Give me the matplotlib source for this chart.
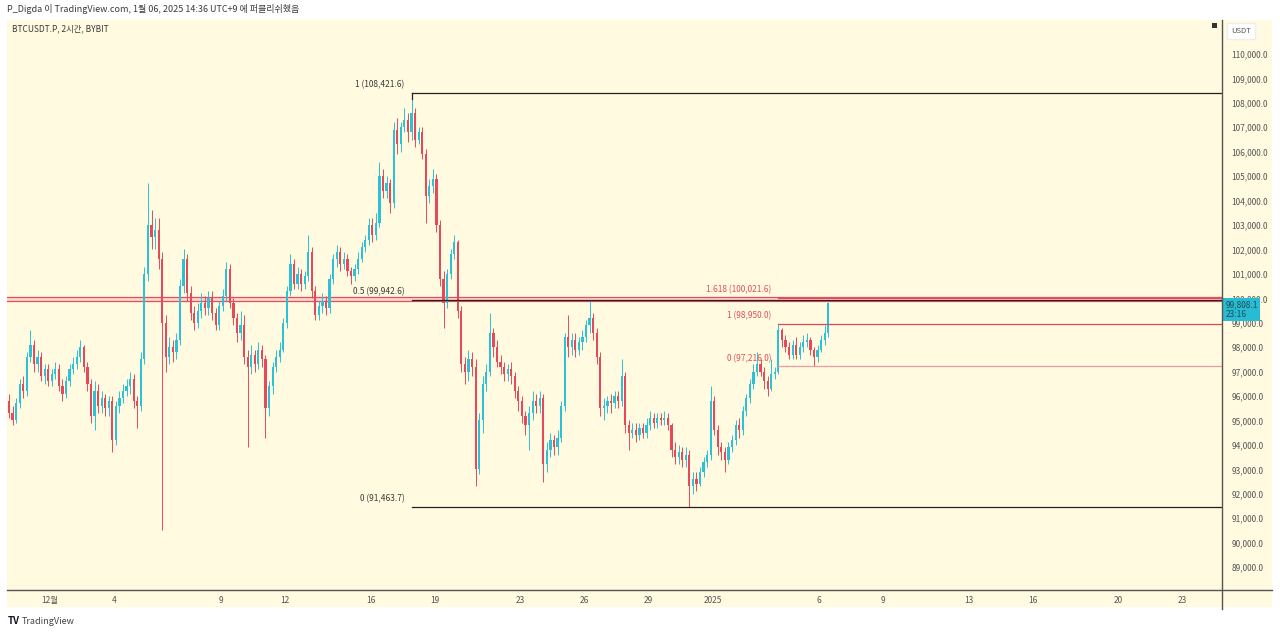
import matplotlib
matplotlib.use("Agg")

import matplotlib.pyplot as plt
import matplotlib.transforms as mtransforms
from matplotlib.lines import Line2D
from matplotlib.patches import Rectangle
import numpy as np

plt.rcParams['font.family'] = ['Noto Sans CJK KR', 'DejaVu Sans']

# ---- data (BTCUSDT.P, resampled to 4h candles, prices in thousands) ----
start_day = -2.0          # days relative to Dec 1 00:00 (first candle: Nov 29)
candle_hours = 4
first_open = 95.8

closes = [
    95.3, 95.0, 95.7, 96.5, 96.2, 97.6, 98.1, 97.3, 97.6, 96.8,
    97.1, 96.6, 96.9, 97.1, 96.4, 96.1, 96.6, 97.1, 97.3, 97.6,
    98.0, 97.2, 96.5, 95.2, 96.2, 95.6, 95.9, 95.5, 95.8, 94.2,
    95.6, 95.9, 96.2, 96.4, 96.7, 95.8, 95.6, 97.5, 101.0, 103.0,
    102.5, 102.8, 101.6, 99.0, 97.6, 98.0, 97.8, 98.3, 100.5, 101.6,
    100.2, 99.4, 99.0, 99.5, 99.8, 99.6, 100.0, 99.4, 98.9, 99.7,
    100.1, 101.2, 99.8, 99.2, 98.6, 98.9, 97.6, 97.2, 97.7, 97.3,
    97.9, 97.5, 95.5, 96.4, 97.2, 97.6, 97.9, 99.0, 100.3, 101.4,
    100.6, 101.0, 100.6, 100.9, 101.9, 100.3, 99.3, 99.7, 99.9, 99.6,
    100.8, 101.6, 101.9, 101.4, 101.6, 101.1, 100.9, 101.2, 101.6, 102.1,
    102.4, 103.0, 102.6, 103.1, 105.0, 104.4, 104.7, 103.9, 106.9, 106.3,
    107.0, 107.3, 106.8, 107.6, 106.5, 106.8, 105.9, 104.2, 104.6, 104.9,
    103.0, 100.8, 99.8, 101.0, 101.8, 102.3, 99.5, 97.3, 97.0, 97.5,
    97.2, 93.0, 95.0, 96.5, 97.0, 98.6, 98.0, 97.4, 97.2, 96.9,
    97.1, 96.8, 96.2, 95.8, 95.2, 94.8, 95.3, 95.8, 95.6, 95.9,
    93.2, 93.8, 94.2, 93.9, 94.3, 95.6, 98.4, 98.0, 98.3, 97.9,
    98.2, 98.4, 98.9, 99.2, 98.6, 97.6, 95.5, 95.6, 95.8, 95.7,
    96.0, 95.8, 96.8, 94.8, 94.5, 94.6, 94.4, 94.7, 94.5, 94.8,
    95.1, 94.9, 95.1, 95.0, 95.1, 94.8, 93.8, 93.5, 93.7, 93.4,
    93.6, 92.3, 92.6, 92.4, 92.9, 93.3, 93.6, 95.8, 94.6, 93.9,
    93.7, 93.4, 93.9, 94.2, 94.8, 94.6, 95.4, 95.9, 96.5, 97.0,
    97.3, 97.0, 96.6, 96.3, 96.9, 97.0, 98.7, 98.3, 98.0, 97.7,
    98.1, 97.7, 98.0, 98.2, 98.3, 97.9, 97.6, 97.9, 98.3, 98.6,
    99.8081,
]

highs = [
    96.1, 95.6, 95.9, 96.7, 96.8, 97.8, 98.7, 98.3, 97.9, 97.8,
    97.3, 97.3, 97.1, 97.4, 97.3, 96.7, 96.8, 97.3, 97.6, 97.9,
    98.3, 98.1, 97.4, 96.7, 96.6, 96.5, 96.2, 96.1, 96.0, 96.0,
    95.8, 96.2, 96.5, 96.7, 97.0, 96.9, 96.0, 97.8, 101.3, 104.7,
    103.6, 103.3, 103.3, 101.9, 99.3, 98.4, 98.3, 98.6, 100.8, 102.0,
    101.8, 100.5, 99.7, 99.8, 100.2, 100.1, 100.3, 100.3, 99.6, 99.9,
    100.4, 101.5, 101.4, 100.0, 99.4, 99.5, 99.3, 97.9, 98.1, 97.9,
    98.2, 98.1, 97.7, 96.6, 97.4, 97.9, 98.2, 99.2, 100.5, 101.8,
    101.6, 101.3, 101.2, 101.1, 102.6, 102.1, 100.5, 99.9, 100.2, 100.1,
    101.0, 101.8, 102.2, 102.1, 101.9, 101.8, 101.3, 101.4, 101.9, 102.3,
    102.6, 103.3, 103.3, 103.5, 105.6, 105.3, 105.0, 104.9, 107.2, 107.4,
    107.2, 107.8, 107.6, 108.4216, 107.8, 107.0, 107.0, 106.1, 104.9, 105.3,
    105.1, 103.2, 101.1, 101.2, 102.0, 102.6, 102.4, 99.7, 97.6, 97.9,
    97.8, 97.5, 95.3, 96.8, 97.3, 99.4, 98.8, 98.3, 97.7, 97.4,
    97.3, 97.4, 97.0, 96.4, 96.0, 95.4, 95.6, 96.2, 96.1, 96.2,
    96.1, 94.1, 94.5, 94.4, 94.6, 95.8, 98.6, 99.3, 98.6, 98.6,
    98.4, 98.7, 99.1, 99.9, 99.4, 98.8, 97.8, 95.9, 96.0, 96.1,
    96.2, 96.2, 97.5, 97.0, 95.0, 94.9, 94.9, 94.9, 94.9, 95.1,
    95.4, 95.3, 95.3, 95.3, 95.4, 95.3, 94.9, 94.1, 94.0, 93.9,
    93.9, 93.8, 92.9, 92.9, 93.1, 93.5, 93.8, 96.4, 96.0, 94.8,
    94.1, 93.9, 94.1, 94.4, 95.0, 95.1, 95.6, 96.1, 96.7, 97.3,
    97.8, 97.5, 97.2, 96.8, 97.5, 97.2, 98.95, 98.8, 98.5, 98.2,
    98.3, 98.4, 98.2, 98.5, 98.6, 98.4, 98.0, 98.1, 98.5, 98.9,
    99.85,
]

lows = [
    95.1, 94.8, 94.9, 95.5, 95.9, 96.0, 97.4, 97.0, 97.0, 96.6,
    96.5, 96.4, 96.4, 96.7, 96.2, 95.8, 95.9, 96.4, 96.9, 97.1,
    97.4, 97.0, 96.2, 94.9, 94.6, 95.3, 95.3, 95.2, 95.2, 93.7,
    94.0, 95.3, 95.7, 96.0, 96.1, 95.5, 94.7, 95.4, 97.3, 100.7,
    102.0, 102.0, 101.2, 90.5, 97.0, 97.3, 97.4, 97.5, 98.1, 100.2,
    99.9, 99.1, 98.7, 98.8, 99.2, 99.3, 99.3, 99.1, 98.7, 98.7,
    99.5, 99.9, 99.6, 98.9, 98.2, 98.3, 97.3, 93.9, 96.9, 97.0,
    97.1, 97.2, 94.3, 95.2, 96.1, 97.0, 97.4, 97.8, 98.8, 100.1,
    100.4, 100.4, 100.3, 100.4, 100.7, 100.0, 99.1, 99.1, 99.4, 99.3,
    99.4, 100.6, 101.3, 101.1, 101.2, 100.9, 100.6, 100.7, 101.0, 101.5,
    101.9, 102.2, 102.3, 102.4, 102.9, 104.1, 104.1, 103.5, 103.7, 105.9,
    106.0, 106.8, 106.4, 106.5, 106.2, 106.3, 105.7, 103.1, 103.9, 104.3,
    102.7, 100.5, 98.8, 99.6, 100.8, 101.6, 99.2, 97.0, 96.5, 96.6,
    96.8, 92.3, 92.8, 94.5, 96.2, 96.8, 97.6, 97.2, 96.9, 96.6,
    96.6, 96.5, 95.9, 95.4, 94.9, 94.4, 93.8, 95.0, 95.3, 95.3,
    92.5, 92.9, 93.5, 93.6, 93.6, 94.1, 95.4, 97.6, 97.7, 97.6,
    97.7, 97.9, 98.2, 98.6, 98.3, 97.3, 95.2, 95.0, 95.3, 95.3,
    95.5, 95.5, 95.6, 94.5, 93.8, 94.3, 94.1, 94.2, 94.3, 94.3,
    94.6, 94.7, 94.7, 94.8, 94.8, 94.6, 93.5, 93.2, 93.2, 93.1,
    93.1, 91.4637, 92.0, 92.1, 92.3, 92.7, 93.1, 93.4, 94.4, 93.6,
    93.4, 92.9, 93.2, 93.7, 94.0, 94.3, 94.4, 95.2, 95.7, 96.3,
    96.8, 96.8, 96.3, 96.0, 96.2, 96.7, 96.9, 98.0, 97.8, 97.5,
    97.5, 97.5, 97.5, 97.8, 98.0, 97.7, 97.216, 97.4, 97.8, 98.1,
    98.4,
]

# x axis dates (days from Dec 1)
tick_days = [0, 3, 8, 11, 15, 18, 22, 25, 28, 31, 36, 39, 43, 46, 50, 53]
tick_labels = ["12월", "4", "9", "12", "16", "19", "23", "26", "29",
               "2025", "6", "9", "13", "16", "20", "23"]

# zone drawn by the author just under 100k
zone_top = 100060.0
zone_bottom = 99885.0

countdown = "23:16"
header = "P_Digda 이 TradingView.com, 1월 06, 2025 14:36 UTC+9 에 퍼블리쉬했음"
title = "BTCUSDT.P, 2시간, BYBIT"

# ---- derived arrays ----
c = np.array(closes) * 1000
h = np.array(highs) * 1000
l = np.array(lows) * 1000
o = np.concatenate([[first_open * 1000], c[:-1]])
step = candle_hours / 24
days = start_day + (np.arange(len(c)) + 0.5) * step

UP = "#29c2d6"
DOWN = "#e8495a"
BG = "#fffae0"
TXT = "#3a3a3a"

W, H = 1280, 634
fig = plt.figure(figsize=(W / 100, H / 100), dpi=100)
fig.patch.set_facecolor("white")


def fx(px):
    return px / W


def fy(py):
    return 1 - py / H


# panel background (chart + price axis + time axis), below the axes
fig.patches.append(Rectangle((fx(7), fy(607)), (1272 - 7) / W, (607 - 20) / H,
                             transform=fig.transFigure, facecolor=BG,
                             edgecolor="none", zorder=-5))

ax = fig.add_axes([fx(7), fy(590), (1222 - 7) / W, (590 - 20) / H])
ax.set_facecolor("none")
for s in ax.spines.values():
    s.set_visible(False)

px_per_day = 21.37
ax.set_xlim((7 - 50) / px_per_day, (1222 - 50) / px_per_day)
ax.set_ylim(88061, 111392)

# candles
up = c >= o
colors = np.where(up, UP, DOWN)
ax.vlines(days, l, h, colors=colors, linewidth=0.7, zorder=3)
body_lo = np.minimum(o, c)
body_h = np.maximum(np.abs(c - o), 25)
ax.bar(days, body_h, bottom=body_lo, width=step * 0.62, color=colors,
       linewidth=0, zorder=4)

# red zone across the whole chart
ax.axhspan(zone_bottom, zone_top, facecolor="#f7c9cc", edgecolor="none", alpha=0.7, zorder=1)
ax.axhline(zone_top, color="#e0505c", linewidth=0.9, zorder=2)
ax.axhline(zone_bottom, color="#e0505c", linewidth=0.9, zorder=2)

# fib retracement (black): from the top to the lowest low after it
i_hi = int(np.argmax(h))
fib_hi = h[i_hi]
fib_lo = l[i_hi:].min()
fib_x0 = days[i_hi]
x_right = ax.get_xlim()[1]
for lev in [1.0, 0.5, 0.0]:
    price = fib_lo + lev * (fib_hi - fib_lo)
    ax.plot([fib_x0, x_right], [price, price], color="#222222", linewidth=0.9, zorder=5)
    ax.annotate(f"{lev:g} ({price:,.1f})", xy=(fib_x0, price), xytext=(-5, 2.5),
                textcoords="offset points", ha="right", va="bottom",
                fontsize=6, color=TXT)
ax.plot([fib_x0, fib_x0], [fib_hi, fib_hi - 250], color="#222222", linewidth=0.9, zorder=5)

# fib extension (red): swing high at ext_i, lowest low after it
ext_i = 216
ext_hi = h[ext_i]
ext_lo = l[ext_i + 1:].min()
ext_x0 = days[ext_i]
for lev, col in [(1.618, "#e0505c"), (1.0, "#d84a58"), (0.0, "#ee9aa2")]:
    price = ext_lo + lev * (ext_hi - ext_lo)
    ax.plot([ext_x0, x_right], [price, price], color=col, linewidth=0.9, zorder=5)
    ax.annotate(f"{lev:g} ({price:,.1f})", xy=(ext_x0, price), xytext=(-5, 2.5),
                textcoords="offset points", ha="right", va="bottom",
                fontsize=6, color="#e0505c")

# axes ticks
yt = np.arange(89000, 110001, 1000)
ax.set_yticks(yt)
ax.set_yticklabels([f"{v:,.1f}" for v in yt])
ax.yaxis.tick_right()
ax.tick_params(axis="y", length=0, pad=7, labelsize=6, labelcolor="#555555")
ax.set_xticks(tick_days)
ax.set_xticklabels(tick_labels)
ax.tick_params(axis="x", length=0, pad=4, labelsize=6, labelcolor="#555555")

# last price tag (sits over the 100,000 label, as on the original)
blend = mtransforms.blended_transform_factory(ax.transAxes, ax.transData)
ax.annotate(f"{c[-1]:,.1f}\n{countdown}", xy=(1, c[-1]), xycoords=blend,
            xytext=(2.5, 2.0), textcoords="offset points", ha="left", va="top",
            fontsize=6, color="#1d4b55", linespacing=1.05,
            bbox=dict(boxstyle="square,pad=0.3", facecolor="#27bcd3", edgecolor="none"),
            annotation_clip=False, zorder=10)

# frame lines
fig.add_artist(Line2D([fx(7), fx(1272)], [fy(590), fy(590)], color="#555555", linewidth=1.0))
fig.add_artist(Line2D([fx(1222), fx(1222)], [fy(20), fy(609)], color="#555555", linewidth=1.0))

# USDT box and small square
fig.text(fx(1241), fy(31), "USDT", fontsize=5.5, color="#555555", ha="center", va="center",
         bbox=dict(boxstyle="square,pad=0.5", facecolor="white", edgecolor="#eeeeee"))
fig.patches.append(Rectangle((fx(1212), fy(28)), 5 / W, 5 / H, transform=fig.transFigure,
                             facecolor="#333333", edgecolor="none"))

# texts
fig.text(fx(7), fy(9), header, fontsize=6.5, color=TXT, va="center")
fig.text(fx(12), fy(29), title, fontsize=6, color=TXT, va="center")
fig.text(fx(8), fy(621), "TV", fontsize=7, color="#131722", va="center", weight="bold")
fig.text(fx(22), fy(621), "TradingView", fontsize=6.5, color="#444444", va="center")

fig.savefig("out.png", dpi=100, facecolor="white")
plt.close(fig)
